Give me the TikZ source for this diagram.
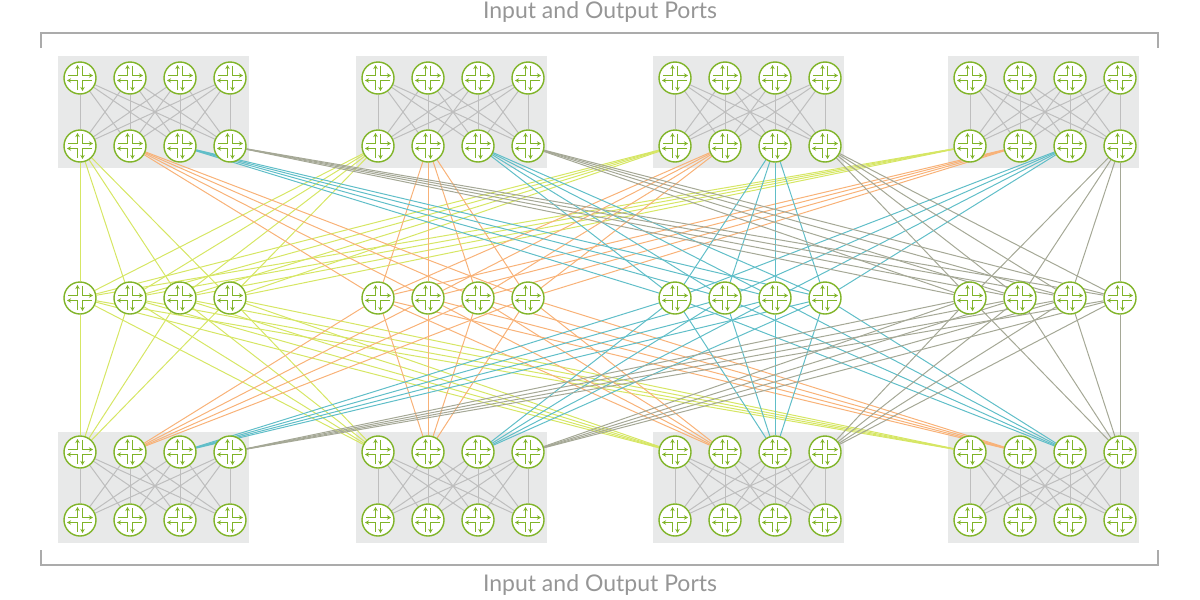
\documentclass[tikz,border=0pt]{standalone}
\usepackage{fontspec}
\setmainfont{Lato}
\usetikzlibrary{arrows.meta}
\pgfdeclarelayer{back}
\pgfdeclarelayer{background}
\pgfsetlayers{back,background,main}
\definecolor{rgreen}{RGB}{128,180,40}
\definecolor{blk}{RGB}{232,233,233}
\definecolor{intra}{RGB}{190,190,190}
\definecolor{cA}{RGB}{214,230,100}
\definecolor{cB}{RGB}{248,178,120}
\definecolor{cC}{RGB}{96,190,200}
\definecolor{cD}{RGB}{165,168,150}
\definecolor{txt}{RGB}{150,150,150}
\tikzset{
  router/.style={circle,draw=rgreen,fill=white,line width=1.4pt,minimum size=32pt,inner sep=0pt,
    path picture={
      \begin{scope}[shift={(path picture bounding box.center)},line width=1.3pt,
         arrows={-{Stealth[length=4pt,width=4.5pt]}},x=1pt,y=1pt]
        \draw[rgreen] (-12,2.5) -- (-2.5,2.5) -- (-2.5,13);
        \draw[rgreen] (2.5,12) -- (2.5,2.5) -- (13,2.5);
        \draw[rgreen] (12,-2.5) -- (2.5,-2.5) -- (2.5,-13);
        \draw[rgreen] (-2.5,-12) -- (-2.5,-2.5) -- (-13,-2.5);
      \end{scope}}},
  blockbox/.style={fill=blk,draw=none},
  intraedge/.style={draw=intra,line width=1pt},
  link/.style={line width=1pt},
  bracket/.style={draw=txt!80,line width=1.2pt},
  lbl/.style={text=txt,font=\fontsize{23}{26}\selectfont}
}
\begin{document}
\begin{tikzpicture}[x=1pt,y=-1pt]
\useasboundingbox (0,0) rectangle (1200,600);
\foreach \b/\bx in {1/0,2/298,3/595,4/890}{
  \foreach \i/\dx in {1/80,2/130,3/180,4/230}{
    \pgfmathsetmacro{\X}{\bx+\dx}
    \node[router] (ta\b\i) at (\X,78) {};
    \node[router] (tb\b\i) at (\X,146) {};
    \node[router] (ba\b\i) at (\X,452) {};
    \node[router] (bb\b\i) at (\X,520) {};
    \node[router] (m\b\i) at (\X,298) {};
  }
  \pgfmathsetmacro{\L}{\bx+58}\pgfmathsetmacro{\R}{\bx+249}
  \begin{pgfonlayer}{back}
    \fill[blockbox] (\L,56) rectangle (\R,168);
    \fill[blockbox] (\L,432) rectangle (\R,543);
  \end{pgfonlayer}
}
\begin{pgfonlayer}{background}
\foreach \b in {1,...,4}{
  \foreach \i in {1,...,4}{
    \foreach \j in {1,...,4}{
      \draw[intraedge] (ta\b\i) -- (tb\b\j);
      \draw[intraedge] (ba\b\i) -- (bb\b\j);
    }
  }
}
\foreach \i/\c in {1/cA,2/cB,3/cC,4/cD}{
  \foreach \b in {1,...,4}{
    \foreach \k in {1,...,4}{
      \draw[link,draw=\c] (tb\b\i) -- (m\i\k);
      \draw[link,draw=\c] (ba\b\i) -- (m\i\k);
    }
  }
}
\end{pgfonlayer}
\coordinate (tl) at (41,48); \coordinate (tl2) at (41,33);
\coordinate (tr) at (1158,48); \coordinate (tr2) at (1158,33);
\draw[bracket] (tl) -- (tl2) -- (tr2) -- (tr);
\coordinate (bl) at (41,550); \coordinate (bl2) at (41,565);
\coordinate (br) at (1158,550); \coordinate (br2) at (1158,565);
\draw[bracket] (bl) -- (bl2) -- (br2) -- (br);
\node[lbl] (top) at (600,12) {Input and Output Ports};
\node[lbl] (bot) at (600,585) {Input and Output Ports};
\end{tikzpicture}
\end{document}
